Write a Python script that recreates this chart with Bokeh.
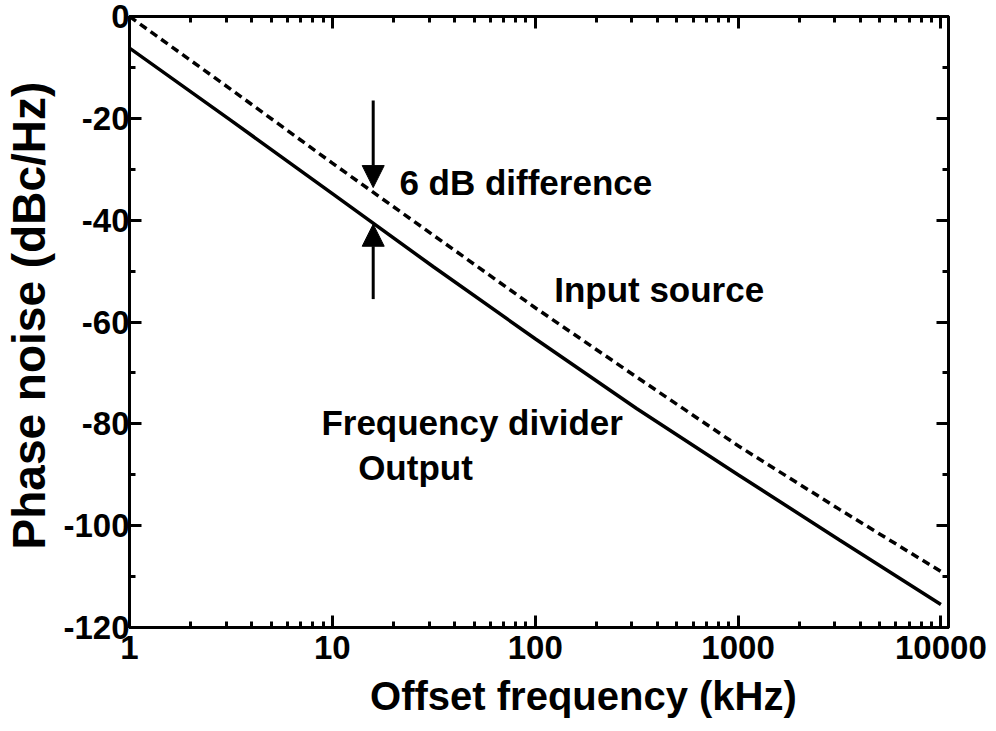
from bokeh.plotting import figure
from bokeh.models import (Range1d, LogAxis, LinearAxis, LogTicker, SingleIntervalTicker,
                          CustomJSTickFormatter, Label, Arrow, NormalHead, ColumnDataSource)
from bokeh.embed import file_html
from bokeh.resources import INLINE

# ---- data ----
freq_khz = [1, 3.16, 10, 31.6, 100, 316, 1000, 3162, 10000]
input_source = [0.0, -14.3, -28.8, -43.0, -57.2, -70.8, -84.3, -96.8, -109.0]
divider_output = [-6.2, -20.4, -34.8, -49.2, -63.3, -77.0, -90.0, -102.8, -115.5]

x_ticks = [1, 10, 100, 1000, 10000]
y_ticks = [-120, -100, -80, -60, -40, -20, 0]

label_texts = ["6 dB difference", "Input source", "Frequency divider", "Output"]
label_x = [21.4, 124, 8.83, 13.4]
label_y = [-32.7, -53.7, -79.8, -88.6]

arrow_x = [15.9, 15.9]
arrow_start = [-16.5, -55.5]
arrow_end = [-33.6, -40.8]

FONT = "Liberation Sans"
NB = "\u00a0"

p = figure(width=996, height=731, x_axis_type="log", output_backend="svg",
           toolbar_location=None, x_range=Range1d(1, 10900), y_range=Range1d(-120, 0),
           min_border_left=128, min_border_right=48, min_border_top=16, min_border_bottom=104)
p.grid.visible = False
p.outline_line_color = "black"
p.outline_line_width = 3
p.background_fill_color = "white"
p.border_fill_color = "white"

src = ColumnDataSource(dict(f=freq_khz, inp=input_source, out=divider_output))
p.line("f", "inp", source=src, line_color="black", line_width=3.5, line_dash="8 5")
p.line("f", "out", source=src, line_color="black", line_width=3.5)

num_fmt = CustomJSTickFormatter(code="return tick.toString()")

def style_axis(ax, labels=True):
    ax.axis_line_color = "black"
    ax.axis_line_width = 3
    ax.major_tick_line_color = "black"
    ax.major_tick_line_width = 3
    ax.minor_tick_line_color = "black"
    ax.minor_tick_line_width = 3
    ax.major_tick_in = 12
    ax.major_tick_out = 0
    ax.minor_tick_in = 6
    ax.minor_tick_out = 0
    if labels:
        ax.formatter = num_fmt
        ax.major_label_text_font = FONT
        ax.major_label_text_font_style = "bold"
        ax.major_label_text_font_size = "33px"
        ax.major_label_text_color = "black"
        ax.axis_label_text_font = FONT
        ax.axis_label_text_font_style = "bold"
        ax.axis_label_text_font_size = "40px"
        ax.axis_label_text_color = "black"
    else:
        ax.formatter = CustomJSTickFormatter(code="return ''")
        ax.major_label_text_font_size = "0px"
        ax.major_label_standoff = 0

xa = p.xaxis[0]
xa.ticker = LogTicker(desired_num_ticks=5, num_minor_ticks=10)
style_axis(xa)
xa.axis_label = NB * 8 + "Offset frequency (kHz)"
xa.major_label_standoff = 8
xa.axis_label_standoff = 12

ya = p.yaxis[0]
ya.ticker = SingleIntervalTicker(interval=20, num_minor_ticks=2)
style_axis(ya)
ya.axis_label = NB + "Phase noise (dBc/Hz)"
ya.axis_label_text_font_size = "46px"
ya.major_label_standoff = 0
ya.axis_label_standoff = 5

top = LogAxis(ticker=LogTicker(num_minor_ticks=10))
style_axis(top, labels=False)
p.add_layout(top, "above")
right = LinearAxis(ticker=SingleIntervalTicker(interval=20, num_minor_ticks=2))
style_axis(right, labels=False)
p.add_layout(right, "right")

for t, x, y in zip(label_texts, label_x, label_y):
    p.add_layout(Label(x=x, y=y, text=t, text_font=FONT, text_font_style="bold",
                       text_font_size="35px", text_baseline="middle", text_align="left",
                       text_color="black"))

for x, y0, y1 in zip(arrow_x, arrow_start, arrow_end):
    p.add_layout(Arrow(x_start=x, y_start=y0, x_end=x, y_end=y1, line_color="black",
                       line_width=3,
                       end=NormalHead(size=22, fill_color="black", line_color="black", line_width=1)))

open("out.html", "w").write(file_html(p, INLINE))
